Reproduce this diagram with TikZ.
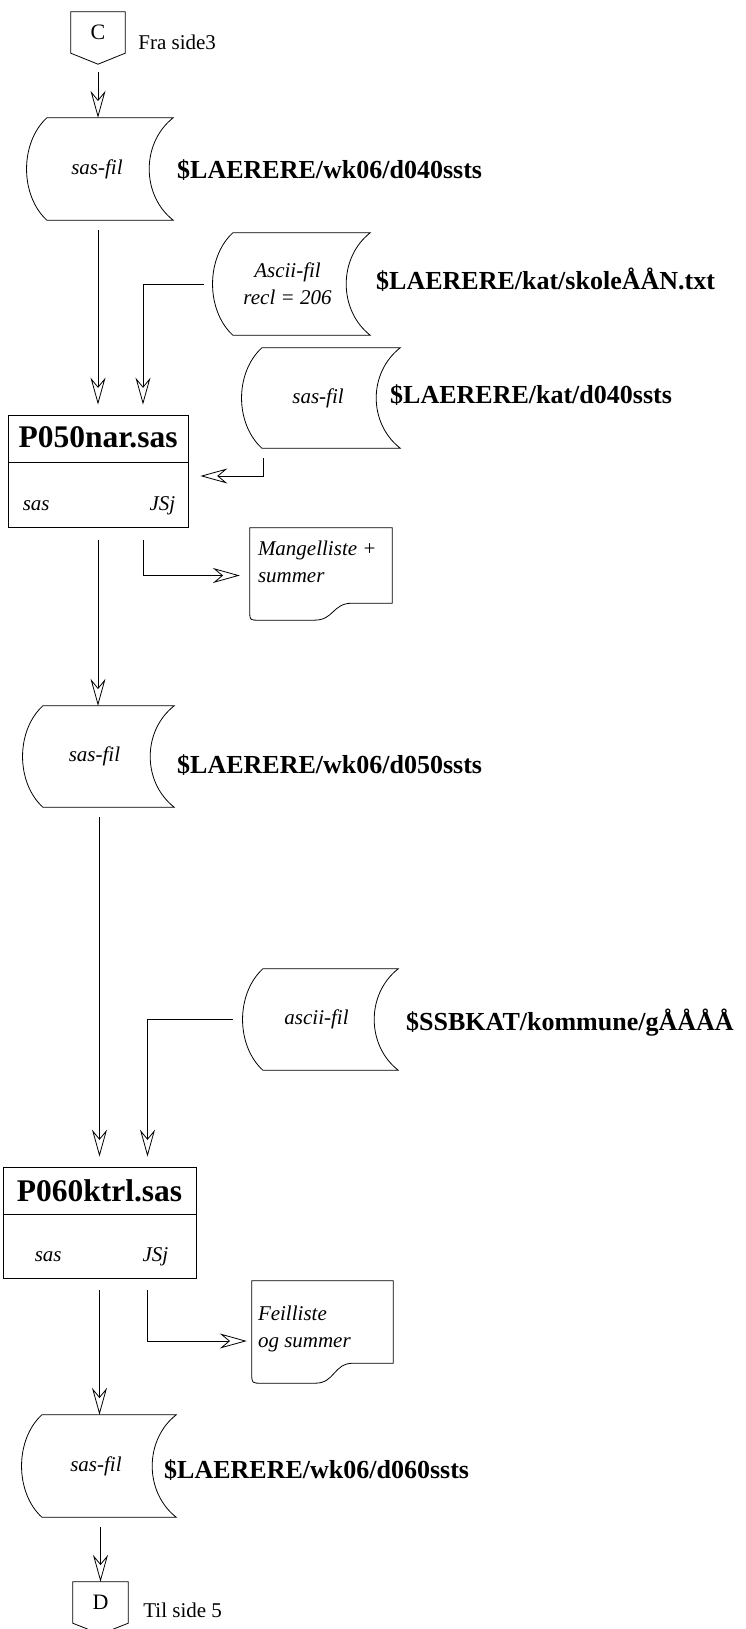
\documentclass[tikz,border=0pt]{standalone}
\usepackage{fontspec}
\setmainfont{Liberation Serif}
\usetikzlibrary{arrows.meta,calc}

\newcommand\drawfile[1]{%
  \draw[lw] (#1.north west) -- (#1.north east)
    .. controls ([xshift=-32pt,yshift=-25pt]#1.north east) and ([xshift=-32pt,yshift=25pt]#1.south east) .. (#1.south east)
    -- (#1.south west)
    .. controls ([xshift=-27pt,yshift=25pt]#1.south west) and ([xshift=-27pt,yshift=-25pt]#1.north west) .. cycle;}

\newcommand\drawdoc[3]{%
  \draw[lw] (#1.north west) -- (#1.north east) -- (#1.south east)
    -- ([xshift=-40pt]#1.south east)
    .. controls ([xshift=-60pt]#1.south east) and ([xshift=-58pt,yshift=-#2pt]#1.south east) .. ([xshift=-78pt,yshift=-#2pt]#1.south east)
    -- ([xshift=10pt,yshift=-#2pt]#1.south west)
    .. controls ([yshift=-#2pt]#1.south west) .. ([yshift=-#3pt]#1.south west) -- cycle;}

\newcommand\drawconn[1]{%
  \draw[lw] (#1.south west) -- (#1.north west) -- (#1.north east) -- (#1.south east)
    -- ([yshift=-11pt]#1.south) -- cycle;}

\tikzset{
  lw/.style={line width=0.8pt},
  arr/.style={lw, -{Stealth[open, length=27pt, width=15pt, inset=9pt]}},
  itx/.style={font=\fontsize{21}{27}\selectfont\itshape},
  rmx/.style={font=\fontsize{21}{25}\selectfont},
  filenode/.style={inner sep=0pt, minimum height=102pt},
  bigl/.style={anchor=west, inner sep=0pt, font=\fontsize{26}{30}\selectfont\bfseries},
  procbox/.style={draw, lw, inner sep=0pt},
  ptitle/.style={inner sep=0pt, font=\fontsize{31.5}{34}\selectfont\bfseries},
  docnode/.style={inner sep=0pt},
  conn/.style={inner sep=0pt, minimum width=54pt, minimum height=41pt, font=\fontsize{22}{22}\selectfont}
}

\begin{document}
\begin{tikzpicture}[x=1pt,y=-1pt]
\useasboundingbox (0,0) rectangle (746,1629);
\clip (0,0) rectangle (746,1629);

% connector C
\node[conn] (c1) at (98,32.5) {C};
\drawconn{c1}
\node[rmx, anchor=west, inner sep=0pt] (c1t) at ([xshift=13pt,yshift=-9.5pt]c1.east) {Fra side3};

% file 1
\node[filenode, minimum width=126pt, label={[itx,xshift=-13pt]center:sas-fil}] (f1) at (110,169) {};
\drawfile{f1}
\node[bigl] (l1) at (177,170) {\$LAERERE/wk06/d040ssts};

% file 2
\node[filenode, minimum width=137pt, label={[itx,align=center,xshift=-14pt]center:Ascii-fil\\recl = 206}] (f2) at (301.5,284) {};
\drawfile{f2}
\node[bigl] (l2) at (376,280) {\$LAERERE/kat/skoleÅÅN.txt};

% file 3
\node[filenode, minimum width=138pt, minimum height=100pt, label={[itx,xshift=-13pt]center:sas-fil}] (f3) at (331,398) {};
\drawfile{f3}
\node[bigl] (l3) at (390,395) {\$LAERERE/kat/d040ssts};

% process 1
\node[procbox, minimum width=180pt, minimum height=112pt] (p1) at (98,471) {};
\draw[lw] ([yshift=-48pt]p1.north west) -- ([yshift=-48pt]p1.north east);
\node[ptitle] (p1t) at ([yshift=-23pt]p1.north) {P050nar.sas};
\node[itx, anchor=base west, inner sep=0pt] (p1a) at ([xshift=15pt,yshift=17pt]p1.south west) {sas};
\node[itx, anchor=base east, inner sep=0pt] (p1b) at ([xshift=-13pt,yshift=17pt]p1.south east) {JSj};

% document 1
\node[docnode, minimum width=142pt, minimum height=75pt] (d1) at (321,565.5) {};
\drawdoc{d1}{17}{9}
\node[itx, anchor=north west, align=left, inner sep=0pt] (d1t) at ([xshift=8pt,yshift=-12.5pt]d1.north west) {Mangelliste +\\summer};

% file 4
\node[filenode, minimum width=131pt, minimum height=101pt, label={[itx,xshift=-14pt]center:sas-fil}] (f4) at (108.5,756.5) {};
\drawfile{f4}
\node[bigl] (l4) at (177,765) {\$LAERERE/wk06/d050ssts};

% file 5
\node[filenode, minimum width=135pt, minimum height=101pt, label={[itx,xshift=-14pt]center:ascii-fil}] (f5) at (330.5,1019.5) {};
\drawfile{f5}
\node[bigl] (l5) at (406,1023) {\$SSBKAT/kommune/gÅÅÅÅ};

% process 2
\node[procbox, minimum width=193pt, minimum height=111pt] (p2) at (99.5,1222.5) {};
\draw[lw] ([yshift=-48pt]p2.north west) -- ([yshift=-48pt]p2.north east);
\node[ptitle] (p2t) at ([yshift=-24pt]p2.north) {P060ktrl.sas};
\node[itx, anchor=base west, inner sep=0pt] (p2a) at ([xshift=32pt,yshift=17pt]p2.south west) {sas};
\node[itx, anchor=base east, inner sep=0pt] (p2b) at ([xshift=-28pt,yshift=17pt]p2.south east) {JSj};

% document 2
\node[docnode, minimum width=141pt, minimum height=82pt] (d2) at (322.5,1322) {};
\drawdoc{d2}{20}{11}
\node[itx, anchor=north west, align=left, inner sep=0pt] (d2t) at ([xshift=6pt,yshift=-24.5pt]d2.north west) {Feilliste\\og summer};

% file 6
\node[filenode, minimum width=134pt, label={[itx,xshift=-13pt]center:sas-fil}] (f6) at (109,1466) {};
\drawfile{f6}
\node[bigl] (l6) at (164,1470) {\$LAERERE/wk06/d060ssts};

% connector D
\node[conn, minimum width=55pt] (dc) at (100.5,1602.5) {D};
\drawconn{dc}
\node[rmx, anchor=west, inner sep=0pt] (dct) at ([xshift=15pt,yshift=-7.5pt]dc.east) {Til side 5};

% connectors
\draw[arr, shorten <=8pt] ([yshift=-11pt]c1.south) -- (c1.south |- f1.north);
\draw[arr, shorten <=10pt, shorten >=10pt] (f1.south -| p1.north) -- (p1.north);
\draw[arr, shorten <=9pt, shorten >=10pt] ([xshift=-20pt]f2.west) -| ([xshift=45pt]p1.north);
\draw[arr, shorten <=10pt, shorten >=12pt] ([xshift=2pt]f3.south west) |- ([yshift=-5pt]p1.east);
\draw[arr, shorten <=13pt] (p1.south) -- (p1.south |- f4.north);
\draw[arr, shorten <=13pt, shorten >=10pt] ([xshift=45pt]p1.south) |- ([yshift=-10pt]d1.west);
\draw[arr, shorten <=10pt, shorten >=10pt] (f4.south -| p2.north) -- (p2.north);
\draw[arr, shorten <=10pt, shorten >=10pt] ([xshift=-20pt]f5.west) -| ([xshift=48pt]p2.north);
\draw[arr, shorten <=12pt] (p2.south) -- (p2.south |- f6.north);
\draw[arr, shorten <=12pt, shorten >=5pt] ([xshift=48pt]p2.south) |- ([yshift=-19pt]d2.west);
\draw[arr, shorten <=10pt] (f6.south -| dc.north) -- (dc.north);
\end{tikzpicture}
\end{document}
